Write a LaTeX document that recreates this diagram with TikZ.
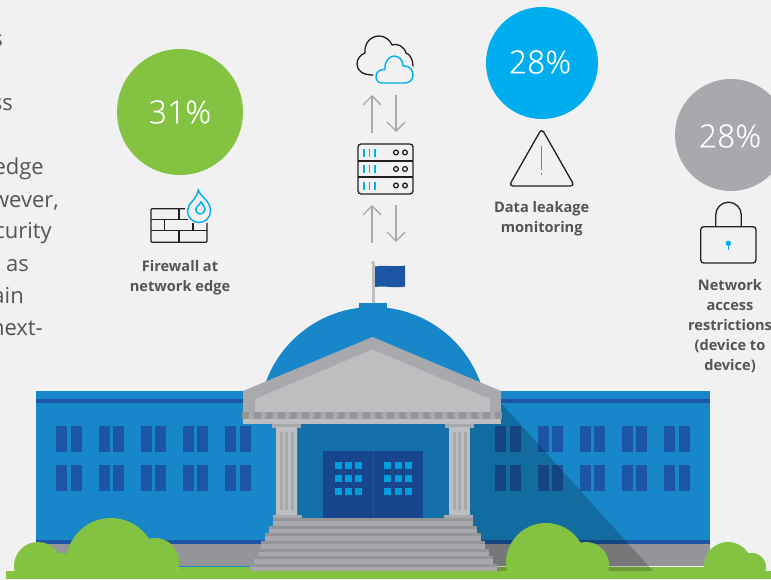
\documentclass[tikz,border=0pt]{standalone}
\usepackage{fontspec}
\setmainfont{Open Sans}
\newfontfamily\lightf[FakeBold=0.2]{Open Sans Light}
\usetikzlibrary{arrows.meta}
\definecolor{bg}{HTML}{F1F1F1}
\definecolor{leaf}{HTML}{84C341}
\definecolor{sky}{HTML}{00ADEE}
\definecolor{stone}{HTML}{A7A9AC}
\definecolor{stonelt}{HTML}{BCBEC0}
\definecolor{stonedk}{HTML}{939598}
\definecolor{wall}{HTML}{1787C9}
\definecolor{navy}{HTML}{1B55A4}
\definecolor{recess}{HTML}{1470A8}
\definecolor{doorc}{HTML}{17468C}
\definecolor{pane}{HTML}{009DDF}
\definecolor{ink}{HTML}{231F20}
\definecolor{txt}{HTML}{555555}
\tikzset{
  pct/.style={font=\lightf\fontsize{32}{32}\selectfont,text=white,inner sep=0pt},
  lbl/.style={font=\bfseries\fontsize{14.6}{20}\selectfont,text=txt,align=center,inner sep=0pt,anchor=base},
  body/.style={font=\fontsize{22}{24}\selectfont,text=txt,inner sep=0pt,anchor=base east},
  icon/.style={draw=ink,line width=1.3pt,line join=round},
  accent/.style={draw=sky,line width=1.4pt,line join=round},
  flow/.style={draw=stone,line width=1.3pt},
  up/.style={flow,-{Straight Barb[length=9pt,width=18pt,line width=1.3pt]}},
}
\newcommand{\winpair}[3]{\fill[navy] (#1,#3) rectangle +(11,26); \fill[navy] (#2,#3) rectangle +(11,26);}
\newcommand{\stairs}[4]{\fill[stone] (#1,#3) rectangle (#2,#4); \fill[stonedk] (#1,#3) rectangle (#2,#3+3);}
\begin{document}
\begin{tikzpicture}[x=1pt,y=-1pt]
\useasboundingbox (0,0) rectangle (771,580);
\fill[bg] (0,0) rectangle (771,580);
% left text
\node[body] at (3,47) {s};
\node[body] at (13,111) {ss};
\node[body] at (44,175) {edge};
\node[body] at (59,208) {wever,};
\node[body] at (52,239) {curity};
\node[body] at (29,271) {n as};
\node[body] at (24,303) {ain};
\node[body] at (43,335) {next-};
% stat circles
\fill[leaf] (180,112) circle (63);
\fill[sky] (542,63) circle (56);
\fill[stone] (731,135) circle (56);
\node[pct] at (180,112) {31\%};
\node[pct] at (540,62) {28\%};
\node[pct] at (730,136) {28\%};
% firewall
\draw[icon,rounded corners=1pt] (185,208.7) -- (151,208.7) -- (151,242.3) -- (207,242.3) -- (207,223);
\draw[icon] (151,219.7) -- (188,219.7) (151,230.7) -- (207,230.7)
  (179,208.7) -- (179,219.7) (164.7,219.7) -- (164.7,230.7) (193,223) -- (193,230.7) (179,230.7) -- (179,242.3);
\draw[accent] (198.3,189.5) .. controls (199,196) and (210.5,200) .. (210.5,211) .. controls (210.5,218) and (205,222.5) .. (199,222.5) .. controls (192,222.5) and (187.5,217) .. (187.5,210.5) .. controls (187.5,203) and (197,200) .. (198.3,189.5) -- cycle;
\draw[accent] (201,201.5) .. controls (201.5,205) and (205.2,206) .. (205,209.5) .. controls (204.8,212) and (202.5,214) .. (200.2,214) .. controls (197.5,214) and (195.7,212) .. (195.8,209.5) .. controls (196,206) and (200,205.5) .. (201,201.5);
\node[lbl] at (180,271.5) {Firewall at};
\node[lbl] at (180,291) {network edge};
% cloud
\draw[icon,line cap=round] (373,75) .. controls (363,75) and (357,71) .. (357,64) .. controls (357,59) and (360,55) .. (365,53) .. controls (364,43) and (371,36) .. (379,36) .. controls (385,36) and (390,40) .. (392,45) .. controls (397,43) and (404,46) .. (406,53) .. controls (410,54) and (413,60) .. (413,66);
\draw[accent] (382,83) .. controls (378,83) and (376,80) .. (376,76.5) .. controls (376,72) and (380,69) .. (385,69.5) .. controls (384,61) and (390,56) .. (394,56) .. controls (399,56) and (403,60) .. (403,66) .. controls (409,65) and (413,70) .. (413,75) .. controls (413,80) and (409,83) .. (405,83) -- cycle;
% flow arrows
\coordinate (u1a) at (372,133); \coordinate (u1b) at (372,95);
\coordinate (d1a) at (396,95); \coordinate (d1b) at (396,132);
\coordinate (u2a) at (372,243); \coordinate (u2b) at (372,205);
\coordinate (d2a) at (396,205); \coordinate (d2b) at (396,242);
\draw[up] (u1a) -- (u1b);
\draw[up] (d1a) -- (d1b);
\draw[up] (u2a) -- (u2b);
\draw[up] (d2a) -- (d2b);
% server
\draw[icon,rounded corners=3pt] (358,144) rectangle (413,194);
\draw[icon] (358,161) -- (413,161) (358,177) -- (413,177);
\foreach \yy in {149,165.5,182}{
  \foreach \xx in {364,369.5,375}{\draw[accent,line width=1.8pt] (\xx,\yy) -- (\xx,\yy+8);}
  \draw[icon] (396,\yy+3.5) circle (2.4) (405,\yy+3.5) circle (2.4);
}
% triangle
\draw[icon,rounded corners=4pt] (541.7,128.5) -- (574.5,186) -- (509,186) -- cycle;
\draw[accent] (541.7,146) -- (541.7,170) (541.7,172.7) -- (541.7,174.7);
\node[lbl] at (541.7,213) {Data leakage};
\node[lbl] at (541.7,233) {monitoring};
% lock
\draw[icon] (715.7,226.7) -- (715.7,215) arc (180:360:12.8) -- (741.3,226.7);
\draw[icon,rounded corners=3pt] (700.7,226.7) rectangle (756,263);
\fill[sky] (728.3,243.3) circle (2.7);
\draw[accent] (728.3,243.3) -- (728.3,250);
\node[lbl] at (730,290) {Network};
\node[lbl] at (730,310) {access};
\node[lbl] at (730,330) {restrictions};
\node[lbl] at (730,350) {(device to};
\node[lbl] at (730,370) {device)};
% flag
\draw[stonelt,line width=3pt] (373,264) -- (373,304);
\fill[stonelt] (373,263) circle (2);
\fill[navy] (375,266.5) .. controls (385,264.5) and (395,267.5) .. (405,265.5) -- (405,286.5) .. controls (395,288.5) and (385,285.5) .. (375,287) -- cycle;
% dome
\fill[wall] (359,303) rectangle (387,309);
\fill[wall] (373,421) circle (114);
% building
\fill[wall] (36,391) rectangle (710,540);
\fill[navy] (36,399) rectangle (710,403);
\fill[navy] (36,540) rectangle (710,544);
\fill[stonedk] (36,544) rectangle (710,566);
\fill[wall] (36,566) rectangle (250,567);
\foreach \ya in {426,465}{
  \winpair{56}{71}{\ya}\winpair{99}{113}{\ya}\winpair{141}{155}{\ya}\winpair{183}{197}{\ya}\winpair{225}{240}{\ya}
  \winpair{495}{510}{\ya}\winpair{538}{552}{\ya}\winpair{580}{594}{\ya}\winpair{622}{636}{\ya}\winpair{664}{679}{\ya}
}
\fill[leaf] (178,567) rectangle (710,571);
\fill[black,opacity=.2] (470,403) -- (501,403) -- (653,571) -- (470,571) -- cycle;
% portico recess and door
\fill[recess] (298,424) rectangle (449,518);
\fill[doorc] (323,451) rectangle (423,518);
\draw[navy,line width=.8pt] (373.5,451) -- (373.5,518);
\foreach \yp in {462,475,488}{
  \foreach \xp in {335,345,355,384,395,405}{\fill[pane] (\xp,\yp) rectangle +(7,7);}
}
% columns
\foreach \xc/\capl/\basel in {276/272/273,449/445/444}{
  \fill[stone] (\capl,424) rectangle +(29,3.5);
  \fill[stonelt] (\xc,427) rectangle +(21,88);
  \foreach \fl in {4,9,14.5}{\fill[stone] (\xc+\fl,432) rectangle +(3,78);}
  \fill[stone] (\basel,515) rectangle +(29,3);
}
% steps
\stairs{273}{473}{518}{526}
\stairs{269}{477}{526}{533}
\stairs{265}{481}{533}{541}
\stairs{261}{485}{541}{549}
\stairs{258}{489}{549}{556}
\stairs{254}{493}{556}{564}
\stairs{250}{497}{564}{571}
% pediment
\fill[stone] (372.5,337) -- (501,391) -- (501,419) -- (243,419) -- (243,391) -- cycle;
\fill[stonelt] (372.5,349.5) -- (490,399) -- (490,412) -- (255,412) -- (255,399) -- cycle;
\fill[stonelt] (243,419) rectangle (501,424);
\foreach \n in {0,...,21}{\fill[stonedk] (242+\n*12.05,412) rectangle +(7,7);}
% ground and bushes
\fill[leaf] (6,571) rectangle (771,579);
\fill[leaf] (38,566) circle (24) (62,568) circle (15) (111,563) circle (45) (155,562) circle (24);
\fill[leaf] (546,563) circle (40) (586,565) circle (23);
\fill[leaf] (728,566) circle (24) (752,567) circle (14);
\fill[bg] (0,579) rectangle (771,580);
\end{tikzpicture}
\end{document}
